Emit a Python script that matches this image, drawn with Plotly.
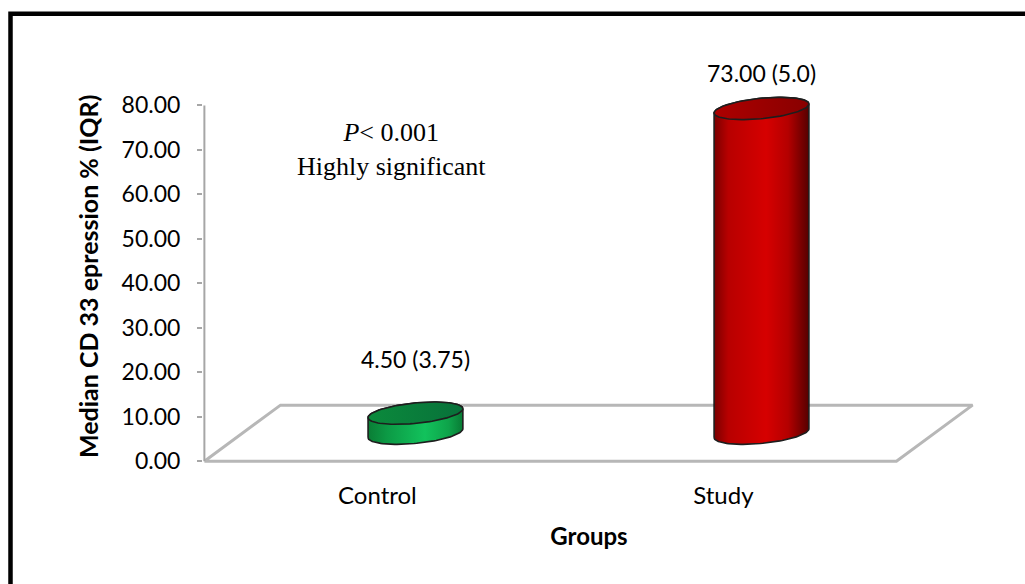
import numpy as np
import plotly.graph_objects as go

# Data
groups = ["Control", "Study"]
median_cd33 = [4.50, 73.00]
iqr_cd33 = [3.75, 5.0]
y_ticks = [0, 10, 20, 30, 40, 50, 60, 70, 80]

# Fill styles per group: body gradient stops, top colour
body_scales = [
    [[0.0, "#0a7d35"], [0.2, "#0c9a45"], [0.6, "#12c25c"], [0.85, "#0ea34a"], [1.0, "#087a34"]],
    [[0.0, "#7a0000"], [0.15, "#b80000"], [0.55, "#d60000"], [0.78, "#b40000"], [1.0, "#560000"]],
]
top_scales = [
    [[0.0, "#0b8a3c"], [1.0, "#08713a"]],
    [[0.0, "#ad0000"], [1.0, "#880000"]],
]
label_lift = [54, 35]  # px between cylinder top and its label

# 3-D floor geometry in axis units
DEPTH_X, DEPTH_Y = 0.22, 12.6
HALF_W = 0.137        # cylinder radius along x
ELL_B = 2.3           # ellipse minor radius along y
ELL_TILT = 1.0        # ellipse tilt (right side higher)
OUTLINE = "#1e1e1e"
FLOOR_COL = "#b7b7b7"

W, H = 1025, 584
ML, MR, MT, MB = 203, 50, 52, 105
X_RANGE = [-0.504, 1.727]
Y_RANGE = [-4, 92]

fig = go.Figure()

# floor parallelogram
fx = [-0.5, 1.5, 1.5 + DEPTH_X, -0.5 + DEPTH_X, -0.5]
fy = [0, 0, DEPTH_Y, DEPTH_Y, 0]
fig.add_trace(go.Scatter(x=fx, y=fy, mode="lines", line=dict(color=FLOOR_COL, width=3),
                         hoverinfo="skip", showlegend=False))
# vertical value axis line
fig.add_trace(go.Scatter(x=[-0.5, -0.5], y=[0, 80], mode="lines",
                         line=dict(color="#a6a6a6", width=2),
                         hoverinfo="skip", showlegend=False))

base = DEPTH_Y / 2
for i, (g, v, q) in enumerate(zip(groups, median_cd33, iqr_cd33)):
    cx = i + DEPTH_X / 2
    top = base + v
    # body: front arc of the base, right side, back arc of the top, left side
    t_front = np.linspace(np.pi, 2 * np.pi, 60)
    t_back = np.linspace(0, np.pi, 60)
    bx = np.concatenate([cx + HALF_W * np.cos(t_front), cx + HALF_W * np.cos(t_back)])
    by = np.concatenate([base + ELL_B * np.sin(t_front) + ELL_TILT * np.cos(t_front),
                         top + ELL_B * np.sin(t_back) + ELL_TILT * np.cos(t_back)])
    bx = np.append(bx, bx[0])
    by = np.append(by, by[0])
    fig.add_trace(go.Scatter(
        x=bx, y=by, mode="lines", fill="toself",
        fillgradient=dict(type="horizontal", colorscale=body_scales[i]),
        line=dict(color=OUTLINE, width=1.6), hoverinfo="skip", showlegend=False))
    # top face
    t = np.linspace(0, 2 * np.pi, 120)
    fig.add_trace(go.Scatter(
        x=cx + HALF_W * np.cos(t),
        y=top + ELL_B * np.sin(t) + ELL_TILT * np.cos(t),
        mode="lines", fill="toself",
        fillgradient=dict(type="horizontal", colorscale=top_scales[i]),
        line=dict(color=OUTLINE, width=1.6), hoverinfo="skip", showlegend=False))
    # value label
    fig.add_annotation(x=cx, y=top, yshift=label_lift[i], text=f"{v:.2f} ({q})",
                       showarrow=False, font=dict(family="Lato", size=23, color="black"))

fig.add_annotation(x=0.04, y=70.0, xref="x", yref="y",
                   text="<i>P</i>< 0.001<br>Highly significant", showarrow=False,
                   font=dict(family="Liberation Serif", size=26, color="black"))


def paper_x(px):
    return (px - ML) / (W - ML - MR)


def paper_y(py):
    return (H - MB - py) / (H - MT - MB)


# value-axis title
fig.add_annotation(x=paper_x(88), xref="paper", y=41.4, yref="y", textangle=-90,
                   xanchor="center", yanchor="middle",
                   text="<b>Median CD 33 epression % (IQR)</b>", showarrow=False,
                   font=dict(family="Lato", size=25, color="black"))

# outer frame
fig.add_shape(type="rect", xref="paper", yref="paper",
              x0=paper_x(10.5), x1=paper_x(1035), y0=paper_y(595), y1=paper_y(13.8),
              line=dict(color="black", width=4.5), fillcolor="rgba(0,0,0,0)")

fig.update_xaxes(range=X_RANGE, tickvals=[0, 1], ticktext=groups, showgrid=False,
                 zeroline=False, showline=False, ticks="",
                 tickfont=dict(family="Lato", size=24, color="black"),
                 title=dict(text="<b>Groups</b>", standoff=20,
                            font=dict(family="Lato", size=24, color="black")))
fig.update_yaxes(range=Y_RANGE, tickvals=y_ticks, tickformat=".2f", showgrid=False,
                 zeroline=False, showline=False, ticks="outside", ticklen=5,
                 tickcolor="#a6a6a6", tickwidth=1.5, ticklabelstandoff=12,
                 tickfont=dict(family="Lato", size=23, color="black"))

fig.update_layout(width=W, height=H, margin=dict(l=ML, r=MR, t=MT, b=MB, autoexpand=False),
                  plot_bgcolor="white", paper_bgcolor="white", showlegend=False)

fig.write_html("out.html")
